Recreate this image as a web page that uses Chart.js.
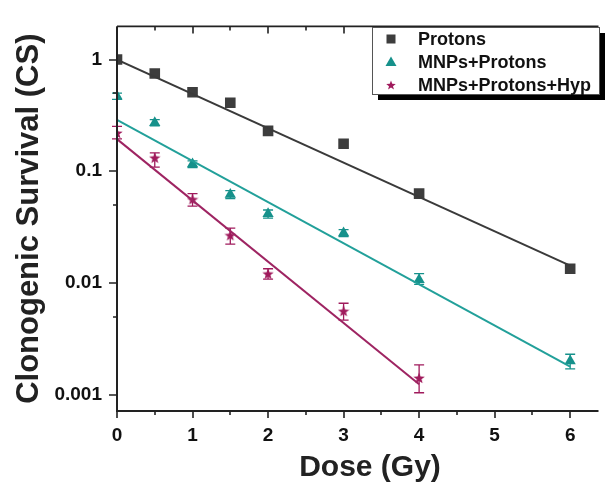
<!DOCTYPE html>
<html>
<head>
<meta charset="utf-8">
<script src="https://cdn.jsdelivr.net/npm/chart.js@4.4.1/dist/chart.umd.min.js"></script>
<style>
  html, body { margin: 0; padding: 0; background: #ffffff; }
  #wrap { width: 606px; height: 493px; position: relative; }
</style>
</head>
<body>
<div id="wrap"><canvas id="c" width="606" height="493"></canvas></div>
<script>
// ---------------- data ----------------
const doseProtons = [0, 0.5, 1, 1.5, 2, 3, 4, 6];
const csProtons   = [1.0, 0.75, 0.51, 0.41, 0.23, 0.176, 0.063, 0.0134];

const doseMnp  = [0, 0.5, 1, 1.5, 2, 3, 4, 6];
const csMnp    = [0.47, 0.272, 0.116, 0.062, 0.0416, 0.028, 0.0107, 0.0020];
const mnpLow   = [0.44, 0.255, 0.108, 0.057, 0.038, 0.026, 0.0097, 0.0017];
const mnpHigh  = [0.50, 0.290, 0.124, 0.067, 0.045, 0.030, 0.0121, 0.0023];

const doseHyp  = [0, 0.5, 1, 1.5, 2, 3, 4];
const csHyp    = [0.22, 0.132, 0.056, 0.0267, 0.0121, 0.0056, 0.00141];
const hypLow   = [0.195, 0.109, 0.0487, 0.0223, 0.0108, 0.00464, 0.00104];
const hypHigh  = [0.252, 0.146, 0.063, 0.031, 0.0134, 0.00658, 0.00185];

// fitted lines (end points)
const fitDoseProtons = [0, 6];
const fitProtons     = [1.0, 0.0143];
const fitDoseMnp     = [0, 6];
const fitMnp         = [0.288, 0.00178];
const fitDoseHyp     = [0, 4];
const fitHyp         = [0.194, 0.00124];

const xTickValues = [0, 1, 2, 3, 4, 5, 6];
const xMinorValues = [0.5, 1.5, 2.5, 3.5, 4.5, 5.5];
const yTickValues = [0.001, 0.01, 0.1, 1];
const yTickLabels = ['0.001', '0.01', '0.1', '1'];
const yMinorValues = [0.005, 0.05, 0.5];

const seriesNames = ['Protons', 'MNPs+Protons', 'MNPs+Protons+Hyp'];
const xTitle = 'Dose (Gy)';
const yTitle = 'Clonogenic Survival (CS)';

// ---------------- styles ----------------
const C_GRAY = '#3d3d3d', C_GRAY_LINE = '#3a3a3a';
const C_TEAL = '#16918b', C_TEAL_LINE = '#22a09a';
const C_MAG  = '#a01a5c', C_MAG_LINE = '#9e2462';
const FONT = '"Liberation Sans", Arial, Helvetica, sans-serif';

function makeStar(color, size) {
  const cv = document.createElement('canvas');
  cv.width = size; cv.height = size;
  const g = cv.getContext('2d');
  const cx = size / 2, cy = size / 2 + 0.5, ro = size / 2, ri = ro * 0.42;
  g.beginPath();
  for (let i = 0; i < 10; i++) {
    const r = i % 2 === 0 ? ro : ri;
    const a = -Math.PI / 2 + i * Math.PI / 5;
    const px = cx + r * Math.cos(a), py = cy + r * Math.sin(a);
    if (i === 0) g.moveTo(px, py); else g.lineTo(px, py);
  }
  g.closePath();
  g.fillStyle = color;
  g.fill();
  return cv;
}
const starImg = makeStar(C_MAG, 12);

function pts(xs, ys) { return xs.map((x, i) => ({ x: x, y: ys[i] })); }

const datasets = [
  { label: 'fitP', data: pts(fitDoseProtons, fitProtons), showLine: true, borderColor: C_GRAY_LINE, borderWidth: 2, pointRadius: 0 },
  { label: 'fitM', data: pts(fitDoseMnp, fitMnp), showLine: true, borderColor: C_TEAL_LINE, borderWidth: 2, pointRadius: 0 },
  { label: 'fitH', data: pts(fitDoseHyp, fitHyp), showLine: true, borderColor: C_MAG_LINE, borderWidth: 2, pointRadius: 0 },
  { label: seriesNames[0], data: pts(doseProtons, csProtons), showLine: false, pointStyle: 'rect', pointRadius: 7.5, backgroundColor: C_GRAY, borderColor: C_GRAY, borderWidth: 0 },
  { label: seriesNames[1], data: pts(doseMnp, csMnp), showLine: false, pointStyle: 'triangle', pointRadius: 6.5, backgroundColor: C_TEAL, borderColor: C_TEAL, borderWidth: 0, errLow: mnpLow, errHigh: mnpHigh },
  { label: seriesNames[2], data: pts(doseHyp, csHyp), showLine: false, pointStyle: starImg, pointRadius: 6, backgroundColor: C_MAG, borderColor: C_MAG, borderWidth: 0, errLow: hypLow, errHigh: hypHigh }
];

// error bars under markers
const errorBars = {
  id: 'errorBars',
  beforeDatasetsDraw(chart) {
    const { ctx, scales: { x, y } } = chart;
    ctx.save();
    chart.data.datasets.forEach(ds => {
      if (!ds.errLow) return;
      ctx.strokeStyle = ds.borderColor;
      ctx.lineWidth = 1.3;
      ds.data.forEach((p, i) => {
        const px = x.getPixelForValue(p.x);
        const y1 = y.getPixelForValue(ds.errLow[i]);
        const y2 = y.getPixelForValue(ds.errHigh[i]);
        ctx.beginPath();
        ctx.moveTo(px, y1); ctx.lineTo(px, y2);
        ctx.moveTo(px - 5, y1); ctx.lineTo(px + 5, y1);
        ctx.moveTo(px - 5, y2); ctx.lineTo(px + 5, y2);
        ctx.stroke();
      });
    });
    ctx.restore();
  }
};

// axes frame, ticks, x title
const frame = {
  id: 'frame',
  afterDraw(chart) {
    const { ctx, chartArea: a, scales: { x, y } } = chart;
    ctx.save();
    ctx.strokeStyle = '#222';
    ctx.lineCap = 'butt';
    ctx.lineWidth = 2;
    ctx.beginPath();
    ctx.moveTo(a.left, a.top); ctx.lineTo(a.left, a.bottom + 1);
    ctx.moveTo(a.left - 1, a.bottom); ctx.lineTo(a.right, a.bottom);
    ctx.stroke();
    ctx.lineWidth = 1.6;
    ctx.beginPath();
    ctx.moveTo(a.left, a.top); ctx.lineTo(a.right, a.top);
    ctx.stroke();
    ctx.lineWidth = 1.6;
    ctx.beginPath();
    xTickValues.forEach(v => {
      const px = Math.round(x.getPixelForValue(v));
      ctx.moveTo(px, a.bottom); ctx.lineTo(px, a.bottom + 7);
      ctx.moveTo(px, a.top); ctx.lineTo(px, a.top + 7);
    });
    xMinorValues.forEach(v => {
      const px = Math.round(x.getPixelForValue(v));
      ctx.moveTo(px, a.bottom); ctx.lineTo(px, a.bottom + 4);
      ctx.moveTo(px, a.top); ctx.lineTo(px, a.top + 4);
    });
    yTickValues.forEach(v => {
      const py = Math.round(y.getPixelForValue(v));
      ctx.moveTo(a.left, py); ctx.lineTo(a.left - 8, py);
    });
    yMinorValues.forEach(v => {
      const py = Math.round(y.getPixelForValue(v));
      ctx.moveTo(a.left, py); ctx.lineTo(a.left - 4, py);
    });
    ctx.stroke();
    // x title
    ctx.font = 'bold 30px ' + FONT;
    ctx.fillStyle = '#222';
    ctx.textAlign = 'center';
    ctx.textBaseline = 'middle';
    ctx.fillText(xTitle, 370, 468);
    ctx.restore();
  }
};

// legend box with shadow
const legendBox = {
  id: 'legendBox',
  afterDraw(chart) {
    const ctx = chart.ctx;
    const bx = 372, by = 27, bw = 227, bh = 67;
    ctx.save();
    ctx.fillStyle = '#000';
    ctx.fillRect(bx + 6, by + 6, bw, bh);
    ctx.fillStyle = '#fff';
    ctx.fillRect(bx, by, bw, bh);
    ctx.strokeStyle = '#555';
    ctx.lineWidth = 1;
    ctx.strokeRect(bx + 0.5, by + 0.5, bw, bh);
    const rows = [39, 62, 85];
    const mx = 391, tx = 418;
    ctx.font = 'bold 18px ' + FONT;
    ctx.textBaseline = 'middle';
    ctx.textAlign = 'left';
    ctx.fillStyle = '#111';
    seriesNames.forEach((n, i) => ctx.fillText(n, tx, rows[i] + 1));
    ctx.fillStyle = C_GRAY;
    ctx.fillRect(mx - 4.5, rows[0] - 4.5, 9, 9);
    ctx.fillStyle = C_TEAL;
    ctx.beginPath();
    ctx.moveTo(mx, rows[1] - 5.5); ctx.lineTo(mx + 5.5, rows[1] + 4); ctx.lineTo(mx - 5.5, rows[1] + 4);
    ctx.closePath(); ctx.fill();
    ctx.drawImage(makeStar(C_MAG, 10), mx - 5, rows[2] - 5);
    ctx.restore();
  }
};

new Chart(document.getElementById('c'), {
  type: 'scatter',
  data: { datasets: datasets },
  plugins: [errorBars, frame, legendBox],
  options: {
    responsive: false,
    animation: false,
    events: [],
    layout: { padding: { left: 0, top: 11, right: 0, bottom: 0 } },
    plugins: { legend: { display: false }, tooltip: { enabled: false } },
    scales: {
      x: {
        type: 'linear',
        min: 0, max: 6.375,
        grid: { display: false, drawTicks: false },
        border: { display: false },
        afterBuildTicks: s => { s.ticks = xTickValues.map(v => ({ value: v })); },
        afterFit: s => { s.height = 82; },
        ticks: {
          padding: 13,
          color: '#111',
          font: { family: FONT, size: 19, weight: 'bold' },
          callback: v => String(v)
        },
        title: { display: false }
      },
      y: {
        type: 'logarithmic',
        min: 0.000714, max: 1.98,
        grid: { display: false, drawTicks: false },
        border: { display: false },
        afterBuildTicks: s => { s.ticks = yTickValues.map(v => ({ value: v })); },
        afterFit: s => { s.width = 117; },
        ticks: {
          padding: 15,
          color: '#111',
          font: { family: FONT, size: 19, weight: 'bold' },
          callback: (v, i) => yTickLabels[i]
        },
        title: {
          display: true, text: yTitle, color: '#222',
          font: { family: FONT, size: 31, weight: 'bold' },
          padding: { top: 11, bottom: 0 }
        }
      }
    }
  }
});
</script>
</body>
</html>
